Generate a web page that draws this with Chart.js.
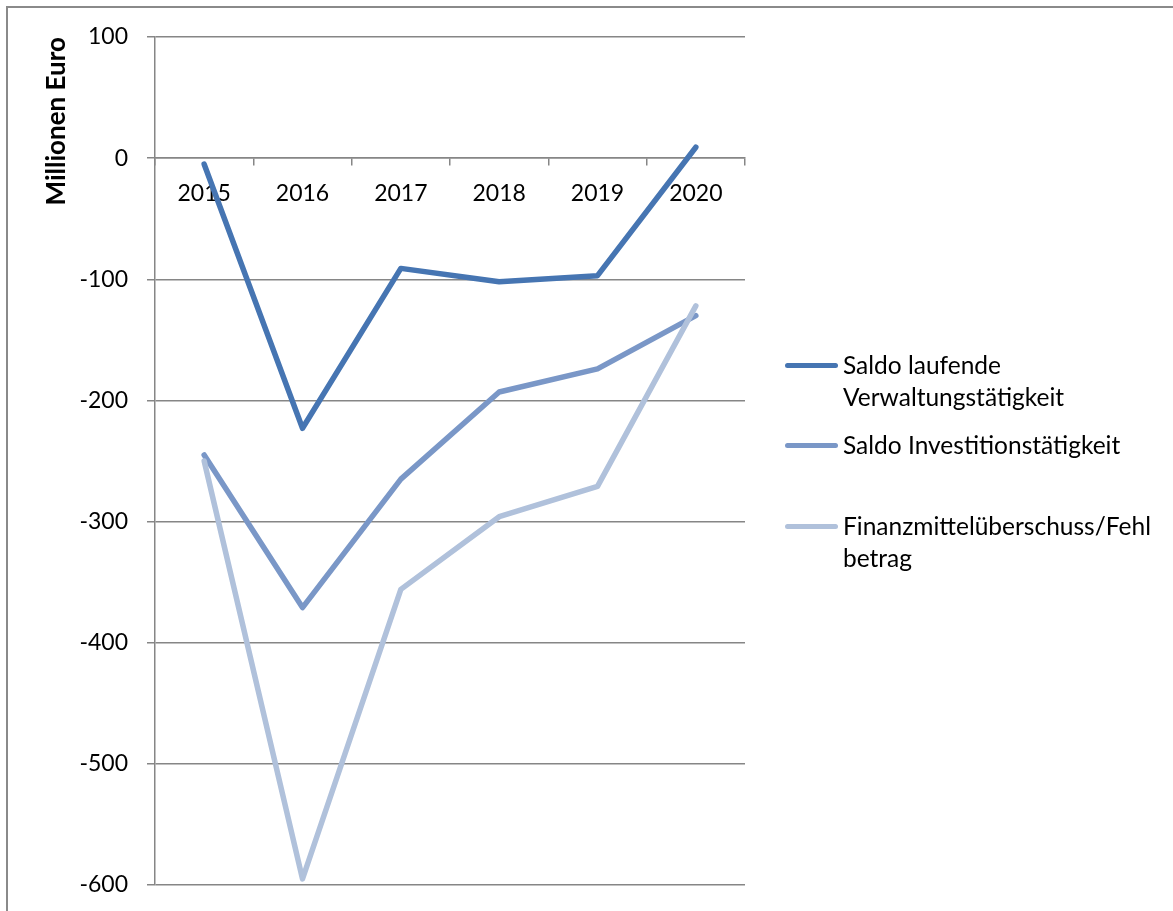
<!DOCTYPE html>
<html>
<head>
<meta charset="utf-8">
<script src="https://cdn.jsdelivr.net/npm/chart.js@4/dist/chart.umd.min.js"></script>
<style>
  html, body { margin: 0; padding: 0; background: #fff; overflow: hidden; }
  #wrap { position: relative; width: 1173px; height: 911px; }
  #frame { position: absolute; left: 6px; top: 6px; width: 1200px; height: 950px; border: 2px solid #8a8a8a; box-sizing: border-box; }
  #c { position: absolute; left: 0; top: 0; }
  .lg { position: absolute; left: 785px; font-family: Lato, "Open Sans", sans-serif; font-size: 24.5px; line-height: 32px; color: #000; }
  .lg .sw { position: absolute; left: 0; width: 53px; height: 5px; border-radius: 3px; }
  .lg .tx { position: absolute; left: 58px; white-space: nowrap; }
</style>
</head>
<body>
<div id="wrap">
  <div id="frame"></div>
  <canvas id="c" width="1173" height="911"></canvas>
  <div id="legend"></div>
</div>
<script>
const categories = ['2015', '2016', '2017', '2018', '2019', '2020'];
const seriesNames = [
  ['Saldo laufende', 'Verwaltungstätigkeit'],
  ['Saldo Investitionstätigkeit'],
  ['Finanzmittelüberschuss/Fehl', 'betrag']
];
const saldoLaufend = [-5, -223, -91, -102, -97, 9];
const saldoInvest = [-245, -371, -265, -193, -174, -130];
const finanzmittel = [-250, -595, -356, -296, -271, -122];
const yTicks = [100, 0, -100, -200, -300, -400, -500, -600];
const yTitle = 'Millionen Euro';
const colors = ['#4675B2', '#7A97C7', '#B0C1DB'];

const seriesData = [saldoLaufend, saldoInvest, finanzmittel];
const GRID = '#868686';
const FONT = 'Lato, "Open Sans", sans-serif';

const datasets = seriesData.map((d, i) => ({
  label: seriesNames[i].join(' '),
  data: d,
  borderColor: colors[i],
  backgroundColor: colors[i],
  borderWidth: 5.5,
  borderCapStyle: 'round',
  borderJoinStyle: 'round',
  pointRadius: 0,
  pointHoverRadius: 0,
  tension: 0,
  fill: false,
  clip: false
})).reverse();

new Chart(document.getElementById('c'), {
  type: 'line',
  data: { labels: categories, datasets },
  options: {
    responsive: false,
    animation: false,
    events: [],
    layout: { padding: { left: 40, top: 37, right: 428, bottom: 26 } },
    plugins: { legend: { display: false }, tooltip: { enabled: false } },
    scales: {
      x: {
        type: 'category',
        position: { y: 0 },
        offset: true,
        afterFit: s => { s.height = 0; s.paddingLeft = 0; s.paddingRight = 0; },
        grid: { offset: true, drawOnChartArea: false, drawTicks: true, tickLength: 7, color: GRID, lineWidth: 1.5 },
        border: { display: true, color: GRID, width: 1.5 },
        ticks: { color: '#000', font: { family: FONT, size: 23 }, padding: 15, maxRotation: 0, autoSkip: false }
      },
      y: {
        position: 'left',
        min: Math.min(...yTicks),
        max: Math.max(...yTicks),
        afterFit: s => { s.width = 115; s.paddingTop = 0; s.paddingBottom = 0; },
        afterBuildTicks: s => { s.ticks = yTicks.map(v => ({ value: v })); },
        grid: { color: GRID, lineWidth: 1.5, drawTicks: true, tickLength: 8 },
        border: { display: true, color: GRID, width: 1.5 },
        ticks: { color: '#000', font: { family: FONT, size: 23 }, padding: 19 },
        title: { display: true, text: yTitle, align: 'end', color: '#000', font: { family: FONT, size: 26, weight: 'bold' }, padding: { top: 1, bottom: 0 } }
      }
    }
  }
});

// HTML legend
const legendTops = [349, 429, 510];
const lg = document.getElementById('legend');
seriesNames.forEach((lines, i) => {
  const el = document.createElement('div');
  el.className = 'lg';
  el.style.top = legendTops[i] + 'px';
  const sw = document.createElement('div');
  sw.className = 'sw';
  sw.style.background = colors[i];
  sw.style.top = '14px';
  el.appendChild(sw);
  const tx = document.createElement('div');
  tx.className = 'tx';
  tx.innerHTML = lines.join('<br>');
  el.appendChild(tx);
  lg.appendChild(el);
});
</script>
</body>
</html>
